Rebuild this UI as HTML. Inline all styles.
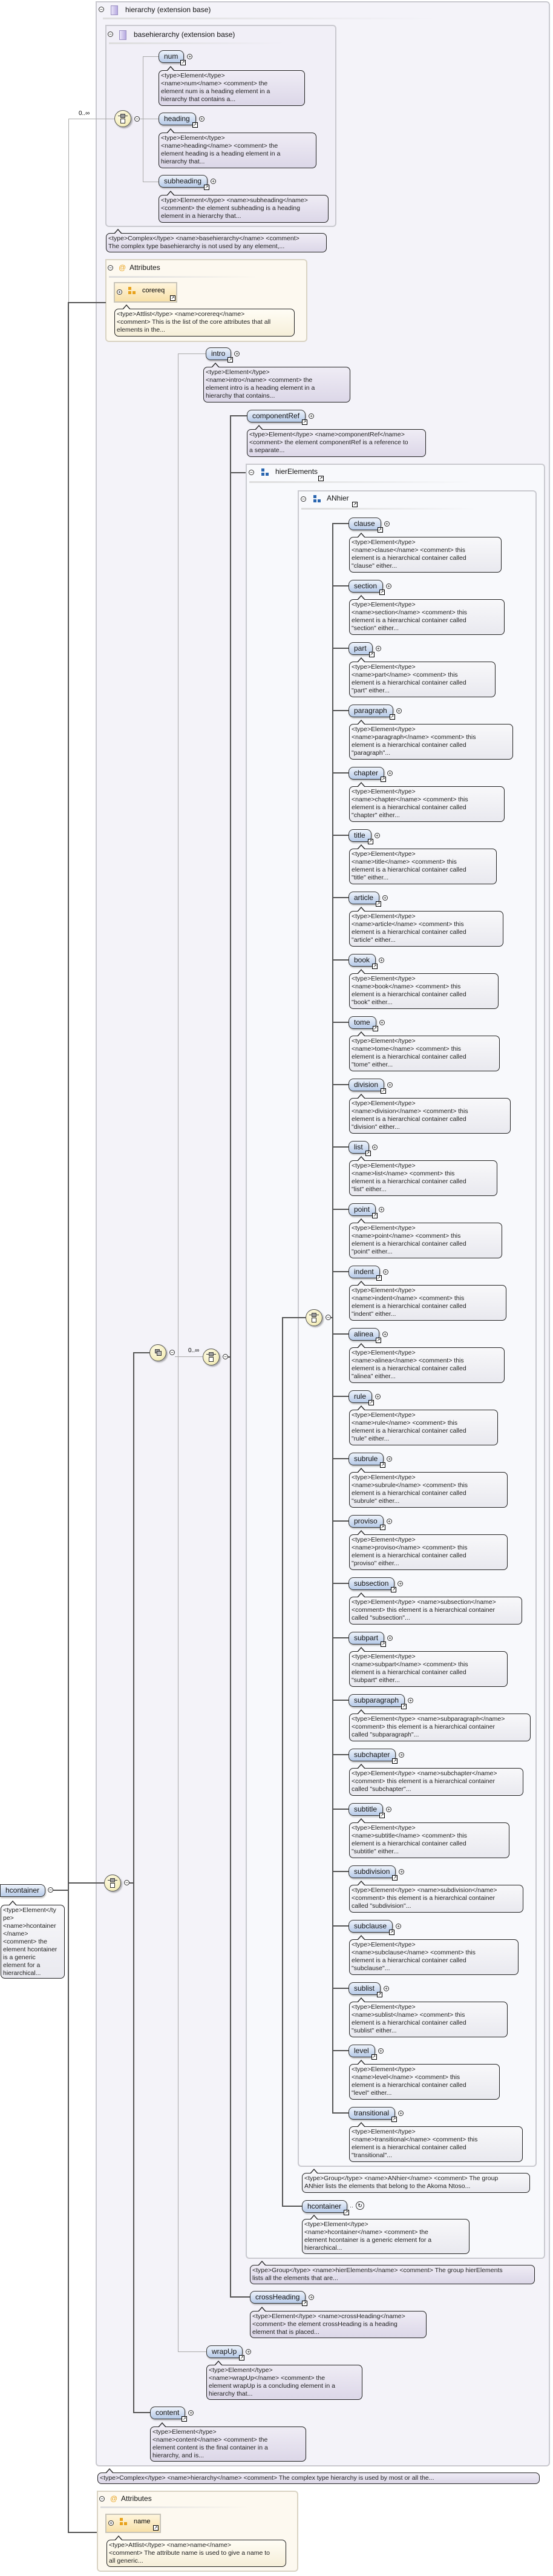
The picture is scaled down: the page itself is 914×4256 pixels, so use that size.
<!DOCTYPE html>
<html><head><meta charset="utf-8">
<style>
*{margin:0;padding:0;box-sizing:border-box}
body{width:914px;height:4256px;position:relative;background:#fff;font-family:"Liberation Sans",sans-serif;overflow:hidden}
.a{position:absolute}
.box{position:absolute;border:2px solid #c9c9cf;border-radius:0 6px 6px 6px}
.ttl{position:absolute;font-size:12px;color:#111;white-space:nowrap}
.mn{position:absolute;width:9px;height:9px;border:1px solid #333;border-radius:50%;background:#fff;font-size:8px;line-height:7px;text-align:center}
.el{position:absolute;height:21px;border:1px solid #333;border-radius:8px;background:linear-gradient(#eef3fc,#b7cbe8);font-size:12px;line-height:19px;padding:0 9px 0 8px;white-space:nowrap;box-shadow:1px 2px 2px rgba(0,0,0,.25);color:#111}
.el .ar{position:absolute;right:-4px;bottom:-5px;width:9px;height:9px;border:1px solid #000;background:#fff;font-size:7px;line-height:7px;text-align:center}
.el .pl{position:absolute;right:-15px;top:5px;width:9px;height:9px;border:1px solid #333;border-radius:50%;background:#fff;font-size:8px;line-height:7px;text-align:center}
.cm{position:absolute;border:1px solid #222;border-radius:7px;font-size:10.5px;line-height:13px;padding:2px 3px;white-space:nowrap;color:#222;background:linear-gradient(#f8f8fa,#e9e9ef)}
.cm.p{background:linear-gradient(#efecf5,#dcd7e8)}
.cm.o{background:linear-gradient(#fffdf5,#f6efd9)}
.cm::before{content:"";position:absolute;left:12px;top:-8px;border-left:7px solid transparent;border-right:7px solid transparent;border-bottom:8px solid #222}
.cm::after{content:"";position:absolute;left:13px;top:-6px;border-left:6px solid transparent;border-right:6px solid transparent;border-bottom:7px solid #f8f8fa}
.cm.p::after{border-bottom-color:#efecf5}
.cm.o::after{border-bottom-color:#fffdf5}
.hl{position:absolute;height:2px;background:#555}
.vl{position:absolute;width:2px;background:#555}
.th{position:absolute;height:1px;background:#aaa}
.tv{position:absolute;width:1px;background:#aaa}
.ci{position:absolute;width:28px;height:28px;border-radius:50%;border:1px solid #555;background:radial-gradient(circle at 40% 35%,#fffce8,#efe7a8);box-shadow:2px 2px 2px rgba(0,0,0,.3)}
.ci i{position:absolute;left:9px;top:5px;width:8px;height:7px;background:#999;border:1px solid #444}
.ci b{position:absolute;left:9px;top:13px;width:8px;height:8px;background:#fff;border:1px solid #333}
.ci u{position:absolute;left:5px;top:8px;width:16px;height:1px;background:#333}
.sq{position:absolute;width:12px;height:16px;border:1px solid #9a8fc2;background:linear-gradient(90deg,#e9e4f7,#b6a9e0)}
.bl{position:absolute;width:5px;height:5px;background:#2a66b0}
.or{position:absolute;width:5px;height:5px;background:#e8a21c}
.attr{position:absolute;border:2px solid #d9d3c3;border-radius:0 6px 6px 6px;background:#fdf9f0}
.ab{position:absolute;border:2px solid #c8c4b8;background:linear-gradient(#fff5dc,#f7e0a8);font-size:11px}
.sep{position:absolute;height:3px;background:linear-gradient(90deg,#ddd,rgba(230,230,230,0))}
</style></head><body>

<!-- hierarchy container -->
<div class="box" style="left:158px;top:2px;width:751px;height:4073px;background:#f4f3f9"></div>
<div class="mn" style="left:163px;top:11px">−</div>
<div class="sq" style="left:183px;top:9px"></div>
<div class="ttl" style="left:207px;top:9px">hierarchy (extension base)</div>
<div class="sep" style="left:170px;top:29px;width:555px"></div>

<!-- basehierarchy -->
<div class="box" style="left:174px;top:41px;width:382px;height:334px;background:#f1eff7"></div>
<div class="mn" style="left:178px;top:52px">−</div>
<div class="sq" style="left:197px;top:50px"></div>
<div class="ttl" style="left:221px;top:50px">basehierarchy (extension base)</div>
<div class="sep" style="left:180px;top:70px;width:290px"></div>

<div class="a" style="left:130px;top:182px;font-size:10px">0..∞</div>
<div class="th" style="left:113px;top:196px;width:76px"></div>
<div class="tv" style="left:113px;top:196px;height:305px"></div>
<div class="ci" style="left:189px;top:182px"><u></u><i></i><b></b></div>
<div class="mn" style="left:222px;top:192px">−</div>
<div class="tv" style="left:236px;top:93px;height:208px"></div>
<div class="th" style="left:231px;top:196px;width:6px"></div>
<div class="th" style="left:236px;top:93px;width:26px"></div>
<div class="th" style="left:236px;top:196px;width:26px"></div>
<div class="th" style="left:236px;top:300px;width:26px"></div>

<div class="el" style="left:262px;top:83px">num<span class="ar">↗</span><span class="pl">+</span></div>
<div class="cm p" style="left:262px;top:116px;width:242px;height:59px">&lt;type&gt;Element&lt;/type&gt;<br>&lt;name&gt;num&lt;/name&gt; &lt;comment&gt; the<br>element num is a heading element in a<br>hierarchy that contains a...</div>
<div class="el" style="left:262px;top:186px">heading<span class="ar">↗</span><span class="pl">+</span></div>
<div class="cm p" style="left:262px;top:219px;width:261px;height:59px">&lt;type&gt;Element&lt;/type&gt;<br>&lt;name&gt;heading&lt;/name&gt; &lt;comment&gt; the<br>element heading is a heading element in a<br>hierarchy that...</div>
<div class="el" style="left:262px;top:289px">subheading<span class="ar">↗</span><span class="pl">+</span></div>
<div class="cm p" style="left:262px;top:322px;width:281px;height:46px">&lt;type&gt;Element&lt;/type&gt; &lt;name&gt;subheading&lt;/name&gt;<br>&lt;comment&gt; the element subheading is a heading<br>element in a hierarchy that...</div>

<div class="cm p" style="left:175px;top:385px;width:365px;height:32px">&lt;type&gt;Complex&lt;/type&gt; &lt;name&gt;basehierarchy&lt;/name&gt; &lt;comment&gt;<br>The complex type basehierarchy is not used by any element,...</div>

<!-- attributes 1 -->
<div class="attr" style="left:174px;top:428px;width:334px;height:137px"></div>
<div class="mn" style="left:178px;top:438px">−</div>
<div class="a" style="left:196px;top:435px;color:#e8a21c;font-size:12px">@</div>
<div class="ttl" style="left:214px;top:435px">Attributes</div>
<div class="sep" style="left:180px;top:456px;width:245px"></div>
<div class="ab" style="left:188px;top:466px;width:105px;height:34px"></div>
<div class="mn" style="left:193px;top:478px">+</div>
<div class="or" style="left:212px;top:474px"></div><div class="or" style="left:212px;top:481px"></div><div class="or" style="left:219px;top:481px"></div>
<div class="a" style="left:235px;top:474px;font-size:11px">corereq</div>
<div class="a" style="left:281px;top:488px;width:9px;height:9px;border:1px solid #000;background:#fff;font-size:7px;line-height:7px;text-align:center">↗</div>
<div class="cm o" style="left:189px;top:510px;width:298px;height:46px">&lt;type&gt;Attlist&lt;/type&gt; &lt;name&gt;corereq&lt;/name&gt;<br>&lt;comment&gt; This is the list of the core attributes that all<br>elements in the...</div>

<!-- main vertical -->
<div class="vl" style="left:112px;top:499px;height:3686px"></div>
<div class="hl" style="left:112px;top:499px;width:63px"></div>
<div class="hl" style="left:112px;top:4183px;width:48px"></div>

<!-- root hcontainer -->
<div class="el" style="left:0px;top:3113px;border-radius:0 8px 8px 0">hcontainer</div>
<div class="mn" style="left:79px;top:3118px">−</div>
<div class="hl" style="left:88px;top:3122px;width:25px"></div>
<div class="cm" style="left:1px;top:3147px;width:106px;height:122px">&lt;type&gt;Element&lt;/ty<br>pe&gt;<br>&lt;name&gt;hcontainer<br>&lt;/name&gt;<br>&lt;comment&gt; the<br>element hcontainer<br>is a generic<br>element for a<br>hierarchical...</div>
<div class="hl" style="left:112px;top:3110px;width:60px"></div>
<div class="ci" style="left:172px;top:3097px"><u></u><i></i><b></b></div>
<div class="mn" style="left:205px;top:3106px">−</div>
<div class="hl" style="left:214px;top:3110px;width:8px"></div>

<!-- vertical 221 -->
<div class="vl" style="left:220px;top:2234px;height:1753px"></div>
<div class="hl" style="left:220px;top:2234px;width:28px"></div>
<div class="hl" style="left:220px;top:3985px;width:28px"></div>
<div class="ci" style="left:247px;top:2221px;background:radial-gradient(circle at 40% 35%,#fffce8,#efe7a8)"><i style="left:8px;top:7px"></i><b style="left:11px;top:10px;background:#bbb"></b></div>
<div class="mn" style="left:280px;top:2230px">−</div>
<div class="th" style="left:289px;top:2241px;width:46px"></div>
<div class="a" style="left:311px;top:2226px;font-size:10px">0..∞</div>
<div class="tv" style="left:294px;top:584px;height:3302px"></div>
<div class="th" style="left:294px;top:584px;width:46px"></div>
<div class="th" style="left:294px;top:3885px;width:47px"></div>

<div class="ci" style="left:335px;top:2228px"><u></u><i></i><b></b></div>
<div class="mn" style="left:368px;top:2237px">−</div>
<div class="vl" style="left:380px;top:686px;height:3110px"></div>
<div class="hl" style="left:377px;top:2241px;width:4px"></div>
<div class="hl" style="left:380px;top:686px;width:28px"></div>
<div class="hl" style="left:380px;top:3794px;width:33px"></div>
<div class="hl" style="left:380px;top:780px;width:27px"></div>

<div class="el" style="left:340px;top:574px">intro<span class="ar">↗</span><span class="pl">+</span></div>
<div class="cm p" style="left:336px;top:606px;width:243px;height:59px">&lt;type&gt;Element&lt;/type&gt;<br>&lt;name&gt;intro&lt;/name&gt; &lt;comment&gt; the<br>element intro is a heading element in a<br>hierarchy that contains...</div>
<div class="el" style="left:408px;top:677px">componentRef<span class="ar">↗</span><span class="pl">+</span></div>
<div class="cm p" style="left:408px;top:709px;width:296px;height:46px">&lt;type&gt;Element&lt;/type&gt; &lt;name&gt;componentRef&lt;/name&gt;<br>&lt;comment&gt; the element componentRef is a reference to<br>a separate...</div>

<!-- hierElements -->
<div class="box" style="left:406px;top:766px;width:495px;height:2966px;background:#f8f9fc"></div>
<div class="mn" style="left:411px;top:776px">−</div>
<div class="bl" style="left:432px;top:774px"></div><div class="bl" style="left:432px;top:781px"></div><div class="bl" style="left:439px;top:781px"></div>
<div class="ttl" style="left:455px;top:772px">hierElements</div>
<div class="a" style="left:526px;top:786px;width:9px;height:9px;border:1px solid #000;background:#fff;font-size:7px;line-height:7px;text-align:center">↗</div>
<div class="sep" style="left:412px;top:795px;width:370px"></div>

<!-- ANhier -->
<div class="box" style="left:492px;top:810px;width:395px;height:2770px;background:#f8f9fc"></div>
<div class="mn" style="left:497px;top:820px">−</div>
<div class="bl" style="left:518px;top:818px"></div><div class="bl" style="left:518px;top:825px"></div><div class="bl" style="left:525px;top:825px"></div>
<div class="ttl" style="left:540px;top:816px">ANhier</div>
<div class="a" style="left:582px;top:829px;width:9px;height:9px;border:1px solid #000;background:#fff;font-size:7px;line-height:7px;text-align:center">↗</div>
<div class="sep" style="left:498px;top:839px;width:290px"></div>

<div class="vl" style="left:466px;top:2176px;height:1470px"></div>
<div class="hl" style="left:466px;top:2176px;width:40px"></div>
<div class="hl" style="left:466px;top:3644px;width:33px"></div>
<div class="ci" style="left:505px;top:2163px"><u></u><i></i><b></b></div>
<div class="mn" style="left:538px;top:2172px">−</div>
<div class="hl" style="left:547px;top:2176px;width:4px"></div>
<div class="vl" style="left:549px;top:864px;height:2628px"></div>

<!-- ANhier elements -->
<div class="hl" style="left:549px;top:864px;width:27px"></div>
<div class="el" style="left:576px;top:855px">clause<span class="ar">↗</span><span class="pl">+</span></div>
<div class="cm" style="left:577px;top:887px;width:252px;height:59px">&lt;type&gt;Element&lt;/type&gt;<br>&lt;name&gt;clause&lt;/name&gt; &lt;comment&gt; this<br>element is a hierarchical container called<br>"clause" either...</div>
<div class="hl" style="left:549px;top:967px;width:27px"></div>
<div class="el" style="left:576px;top:958px">section<span class="ar">↗</span><span class="pl">+</span></div>
<div class="cm" style="left:577px;top:990px;width:257px;height:59px">&lt;type&gt;Element&lt;/type&gt;<br>&lt;name&gt;section&lt;/name&gt; &lt;comment&gt; this<br>element is a hierarchical container called<br>"section" either...</div>
<div class="hl" style="left:549px;top:1070px;width:27px"></div>
<div class="el" style="left:576px;top:1061px">part<span class="ar">↗</span><span class="pl">+</span></div>
<div class="cm" style="left:577px;top:1093px;width:242px;height:59px">&lt;type&gt;Element&lt;/type&gt;<br>&lt;name&gt;part&lt;/name&gt; &lt;comment&gt; this<br>element is a hierarchical container called<br>"part" either...</div>
<div class="hl" style="left:549px;top:1173px;width:27px"></div>
<div class="el" style="left:576px;top:1164px">paragraph<span class="ar">↗</span><span class="pl">+</span></div>
<div class="cm" style="left:577px;top:1196px;width:271px;height:59px">&lt;type&gt;Element&lt;/type&gt;<br>&lt;name&gt;paragraph&lt;/name&gt; &lt;comment&gt; this<br>element is a hierarchical container called<br>"paragraph"...</div>
<div class="hl" style="left:549px;top:1276px;width:27px"></div>
<div class="el" style="left:576px;top:1267px">chapter<span class="ar">↗</span><span class="pl">+</span></div>
<div class="cm" style="left:577px;top:1299px;width:257px;height:59px">&lt;type&gt;Element&lt;/type&gt;<br>&lt;name&gt;chapter&lt;/name&gt; &lt;comment&gt; this<br>element is a hierarchical container called<br>"chapter" either...</div>
<div class="hl" style="left:549px;top:1379px;width:27px"></div>
<div class="el" style="left:576px;top:1370px">title<span class="ar">↗</span><span class="pl">+</span></div>
<div class="cm" style="left:577px;top:1402px;width:244px;height:59px">&lt;type&gt;Element&lt;/type&gt;<br>&lt;name&gt;title&lt;/name&gt; &lt;comment&gt; this<br>element is a hierarchical container called<br>"title" either...</div>
<div class="hl" style="left:549px;top:1482px;width:27px"></div>
<div class="el" style="left:576px;top:1473px">article<span class="ar">↗</span><span class="pl">+</span></div>
<div class="cm" style="left:577px;top:1505px;width:255px;height:59px">&lt;type&gt;Element&lt;/type&gt;<br>&lt;name&gt;article&lt;/name&gt; &lt;comment&gt; this<br>element is a hierarchical container called<br>"article" either...</div>
<div class="hl" style="left:549px;top:1585px;width:27px"></div>
<div class="el" style="left:576px;top:1576px">book<span class="ar">↗</span><span class="pl">+</span></div>
<div class="cm" style="left:577px;top:1608px;width:247px;height:59px">&lt;type&gt;Element&lt;/type&gt;<br>&lt;name&gt;book&lt;/name&gt; &lt;comment&gt; this<br>element is a hierarchical container called<br>"book" either...</div>
<div class="hl" style="left:549px;top:1688px;width:27px"></div>
<div class="el" style="left:576px;top:1679px">tome<span class="ar">↗</span><span class="pl">+</span></div>
<div class="cm" style="left:577px;top:1711px;width:249px;height:59px">&lt;type&gt;Element&lt;/type&gt;<br>&lt;name&gt;tome&lt;/name&gt; &lt;comment&gt; this<br>element is a hierarchical container called<br>"tome" either...</div>
<div class="hl" style="left:549px;top:1791px;width:27px"></div>
<div class="el" style="left:576px;top:1782px">division<span class="ar">↗</span><span class="pl">+</span></div>
<div class="cm" style="left:577px;top:1814px;width:267px;height:59px">&lt;type&gt;Element&lt;/type&gt;<br>&lt;name&gt;division&lt;/name&gt; &lt;comment&gt; this<br>element is a hierarchical container called<br>"division" either...</div>
<div class="hl" style="left:549px;top:1894px;width:27px"></div>
<div class="el" style="left:576px;top:1885px">list<span class="ar">↗</span><span class="pl">+</span></div>
<div class="cm" style="left:577px;top:1917px;width:245px;height:59px">&lt;type&gt;Element&lt;/type&gt;<br>&lt;name&gt;list&lt;/name&gt; &lt;comment&gt; this<br>element is a hierarchical container called<br>"list" either...</div>
<div class="hl" style="left:549px;top:1997px;width:27px"></div>
<div class="el" style="left:576px;top:1988px">point<span class="ar">↗</span><span class="pl">+</span></div>
<div class="cm" style="left:577px;top:2020px;width:253px;height:59px">&lt;type&gt;Element&lt;/type&gt;<br>&lt;name&gt;point&lt;/name&gt; &lt;comment&gt; this<br>element is a hierarchical container called<br>"point" either...</div>
<div class="hl" style="left:549px;top:2100px;width:27px"></div>
<div class="el" style="left:576px;top:2091px">indent<span class="ar">↗</span><span class="pl">+</span></div>
<div class="cm" style="left:577px;top:2123px;width:260px;height:59px">&lt;type&gt;Element&lt;/type&gt;<br>&lt;name&gt;indent&lt;/name&gt; &lt;comment&gt; this<br>element is a hierarchical container called<br>"indent" either...</div>
<div class="hl" style="left:549px;top:2203px;width:27px"></div>
<div class="el" style="left:576px;top:2194px">alinea<span class="ar">↗</span><span class="pl">+</span></div>
<div class="cm" style="left:577px;top:2226px;width:257px;height:59px">&lt;type&gt;Element&lt;/type&gt;<br>&lt;name&gt;alinea&lt;/name&gt; &lt;comment&gt; this<br>element is a hierarchical container called<br>"alinea" either...</div>
<div class="hl" style="left:549px;top:2306px;width:27px"></div>
<div class="el" style="left:576px;top:2297px">rule<span class="ar">↗</span><span class="pl">+</span></div>
<div class="cm" style="left:577px;top:2329px;width:246px;height:59px">&lt;type&gt;Element&lt;/type&gt;<br>&lt;name&gt;rule&lt;/name&gt; &lt;comment&gt; this<br>element is a hierarchical container called<br>"rule" either...</div>
<div class="hl" style="left:549px;top:2409px;width:27px"></div>
<div class="el" style="left:576px;top:2400px">subrule<span class="ar">↗</span><span class="pl">+</span></div>
<div class="cm" style="left:577px;top:2432px;width:262px;height:59px">&lt;type&gt;Element&lt;/type&gt;<br>&lt;name&gt;subrule&lt;/name&gt; &lt;comment&gt; this<br>element is a hierarchical container called<br>"subrule" either...</div>
<div class="hl" style="left:549px;top:2512px;width:27px"></div>
<div class="el" style="left:576px;top:2503px">proviso<span class="ar">↗</span><span class="pl">+</span></div>
<div class="cm" style="left:577px;top:2535px;width:262px;height:59px">&lt;type&gt;Element&lt;/type&gt;<br>&lt;name&gt;proviso&lt;/name&gt; &lt;comment&gt; this<br>element is a hierarchical container called<br>"proviso" either...</div>
<div class="hl" style="left:549px;top:2615px;width:27px"></div>
<div class="el" style="left:576px;top:2606px">subsection<span class="ar">↗</span><span class="pl">+</span></div>
<div class="cm" style="left:577px;top:2638px;width:286px;height:46px">&lt;type&gt;Element&lt;/type&gt; &lt;name&gt;subsection&lt;/name&gt;<br>&lt;comment&gt; this element is a hierarchical container<br>called "subsection"...</div>
<div class="hl" style="left:549px;top:2705px;width:27px"></div>
<div class="el" style="left:576px;top:2696px">subpart<span class="ar">↗</span><span class="pl">+</span></div>
<div class="cm" style="left:577px;top:2728px;width:262px;height:59px">&lt;type&gt;Element&lt;/type&gt;<br>&lt;name&gt;subpart&lt;/name&gt; &lt;comment&gt; this<br>element is a hierarchical container called<br>"subpart" either...</div>
<div class="hl" style="left:549px;top:2808px;width:27px"></div>
<div class="el" style="left:576px;top:2799px">subparagraph<span class="ar">↗</span><span class="pl">+</span></div>
<div class="cm" style="left:577px;top:2831px;width:300px;height:46px">&lt;type&gt;Element&lt;/type&gt; &lt;name&gt;subparagraph&lt;/name&gt;<br>&lt;comment&gt; this element is a hierarchical container<br>called "subparagraph"...</div>
<div class="hl" style="left:549px;top:2898px;width:27px"></div>
<div class="el" style="left:576px;top:2889px">subchapter<span class="ar">↗</span><span class="pl">+</span></div>
<div class="cm" style="left:577px;top:2921px;width:288px;height:46px">&lt;type&gt;Element&lt;/type&gt; &lt;name&gt;subchapter&lt;/name&gt;<br>&lt;comment&gt; this element is a hierarchical container<br>called "subchapter"...</div>
<div class="hl" style="left:549px;top:2988px;width:27px"></div>
<div class="el" style="left:576px;top:2979px">subtitle<span class="ar">↗</span><span class="pl">+</span></div>
<div class="cm" style="left:577px;top:3011px;width:265px;height:59px">&lt;type&gt;Element&lt;/type&gt;<br>&lt;name&gt;subtitle&lt;/name&gt; &lt;comment&gt; this<br>element is a hierarchical container called<br>"subtitle" either...</div>
<div class="hl" style="left:549px;top:3091px;width:27px"></div>
<div class="el" style="left:576px;top:3082px">subdivision<span class="ar">↗</span><span class="pl">+</span></div>
<div class="cm" style="left:577px;top:3114px;width:288px;height:46px">&lt;type&gt;Element&lt;/type&gt; &lt;name&gt;subdivision&lt;/name&gt;<br>&lt;comment&gt; this element is a hierarchical container<br>called "subdivision"...</div>
<div class="hl" style="left:549px;top:3181px;width:27px"></div>
<div class="el" style="left:576px;top:3172px">subclause<span class="ar">↗</span><span class="pl">+</span></div>
<div class="cm" style="left:577px;top:3204px;width:280px;height:59px">&lt;type&gt;Element&lt;/type&gt;<br>&lt;name&gt;subclause&lt;/name&gt; &lt;comment&gt; this<br>element is a hierarchical container called<br>"subclause"...</div>
<div class="hl" style="left:549px;top:3284px;width:27px"></div>
<div class="el" style="left:576px;top:3275px">sublist<span class="ar">↗</span><span class="pl">+</span></div>
<div class="cm" style="left:577px;top:3307px;width:262px;height:59px">&lt;type&gt;Element&lt;/type&gt;<br>&lt;name&gt;sublist&lt;/name&gt; &lt;comment&gt; this<br>element is a hierarchical container called<br>"sublist" either...</div>
<div class="hl" style="left:549px;top:3387px;width:27px"></div>
<div class="el" style="left:576px;top:3378px">level<span class="ar">↗</span><span class="pl">+</span></div>
<div class="cm" style="left:577px;top:3410px;width:249px;height:59px">&lt;type&gt;Element&lt;/type&gt;<br>&lt;name&gt;level&lt;/name&gt; &lt;comment&gt; this<br>element is a hierarchical container called<br>"level" either...</div>
<div class="hl" style="left:549px;top:3490px;width:27px"></div>
<div class="el" style="left:576px;top:3481px">transitional<span class="ar">↗</span><span class="pl">+</span></div>
<div class="cm" style="left:577px;top:3513px;width:287px;height:59px">&lt;type&gt;Element&lt;/type&gt;<br>&lt;name&gt;transitional&lt;/name&gt; &lt;comment&gt; this<br>element is a hierarchical container called<br>"transitional"...</div>

<div class="cm" style="left:499px;top:3590px;width:377px;height:33px">&lt;type&gt;Group&lt;/type&gt; &lt;name&gt;ANhier&lt;/name&gt; &lt;comment&gt; The group<br>ANhier lists the elements that belong to the Akoma Ntoso...</div>

<div class="el" style="left:499px;top:3635px">hcontainer<span class="ar">↗</span></div>
<div class="a" style="left:578px;top:3641px;font-size:9px">··</div>
<div class="a" style="left:588px;top:3637px;width:14px;height:14px;border:1px solid #333;border-radius:50%;font-size:9px;line-height:12px;text-align:center">↻</div>
<div class="cm" style="left:499px;top:3666px;width:277px;height:58px">&lt;type&gt;Element&lt;/type&gt;<br>&lt;name&gt;hcontainer&lt;/name&gt; &lt;comment&gt; the<br>element hcontainer is a generic element for a<br>hierarchical...</div>

<div class="cm p" style="left:413px;top:3742px;width:471px;height:32px">&lt;type&gt;Group&lt;/type&gt; &lt;name&gt;hierElements&lt;/name&gt; &lt;comment&gt; The group hierElements<br>lists all the elements that are...</div>

<div class="el" style="left:413px;top:3785px">crossHeading<span class="ar">↗</span><span class="pl">+</span></div>
<div class="cm p" style="left:413px;top:3818px;width:292px;height:45px">&lt;type&gt;Element&lt;/type&gt; &lt;name&gt;crossHeading&lt;/name&gt;<br>&lt;comment&gt; the element crossHeading is a heading<br>element that is placed...</div>

<div class="el" style="left:341px;top:3875px">wrapUp<span class="ar">↗</span><span class="pl">+</span></div>
<div class="cm p" style="left:341px;top:3907px;width:258px;height:58px">&lt;type&gt;Element&lt;/type&gt;<br>&lt;name&gt;wrapUp&lt;/name&gt; &lt;comment&gt; the<br>element wrapUp is a concluding element in a<br>hierarchy that...</div>

<div class="el" style="left:248px;top:3976px">content<span class="ar">↗</span><span class="pl">+</span></div>
<div class="cm p" style="left:248px;top:4009px;width:258px;height:58px">&lt;type&gt;Element&lt;/type&gt;<br>&lt;name&gt;content&lt;/name&gt; &lt;comment&gt; the<br>element content is the final container in a<br>hierarchy, and is...</div>

<div class="cm p" style="left:161px;top:4085px;width:731px;height:19px;padding-top:2px">&lt;type&gt;Complex&lt;/type&gt; &lt;name&gt;hierarchy&lt;/name&gt; &lt;comment&gt; The complex type hierarchy is used by most or all the...</div>

<!-- attributes 2 -->
<div class="attr" style="left:160px;top:4115px;width:333px;height:134px"></div>
<div class="mn" style="left:164px;top:4124px">−</div>
<div class="a" style="left:182px;top:4121px;color:#e8a21c;font-size:12px">@</div>
<div class="ttl" style="left:200px;top:4121px">Attributes</div>
<div class="sep" style="left:166px;top:4141px;width:245px"></div>
<div class="ab" style="left:174px;top:4153px;width:92px;height:32px"></div>
<div class="mn" style="left:179px;top:4164px">+</div>
<div class="or" style="left:198px;top:4160px"></div><div class="or" style="left:198px;top:4167px"></div><div class="or" style="left:205px;top:4167px"></div>
<div class="a" style="left:221px;top:4160px;font-size:11px">name</div>
<div class="a" style="left:253px;top:4172px;width:9px;height:9px;border:1px solid #000;background:#fff;font-size:7px;line-height:7px;text-align:center">↗</div>
<div class="cm o" style="left:176px;top:4196px;width:297px;height:45px">&lt;type&gt;Attlist&lt;/type&gt; &lt;name&gt;name&lt;/name&gt;<br>&lt;comment&gt; The attribute name is used to give a name to<br>all generic...</div>

</body></html>
